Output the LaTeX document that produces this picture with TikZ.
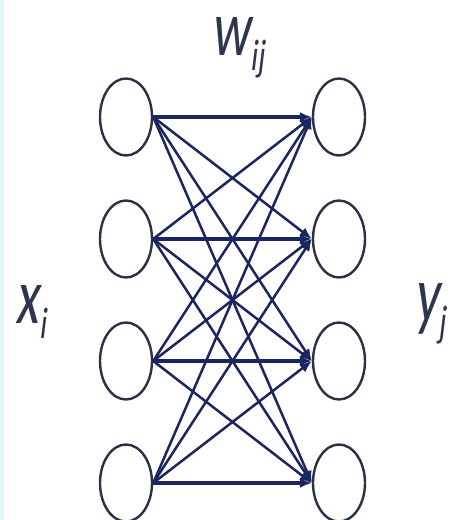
\documentclass[tikz,border=0pt]{standalone}
\usepackage{fontspec}
\setmainfont{Carlito}
\newfontfamily\lblfont{Carlito}[FakeSlant=0.18]
\usetikzlibrary{shapes.geometric,arrows.meta}
\definecolor{edgecol}{HTML}{1B2560}
\definecolor{ringcol}{HTML}{2A3045}
\definecolor{txtcol}{HTML}{2E3550}
\definecolor{stripe}{HTML}{E2F4FC}
\tikzset{
  neuron/.style={ellipse, draw=ringcol, line width=2.4bp, fill=white, minimum width=52bp, minimum height=77bp, inner sep=0pt},
  link/.style={draw=edgecol, line width=2.5bp, -{Latex[length=12bp,width=10bp]}},
  hlink/.style={link, line width=3.2bp},
  lbl/.style={text=txtcol, inner sep=0pt, font=\lblfont\fontsize{54}{54}\selectfont}
}
\newcommand{\vstretch}[1]{\scalebox{1}[1.48]{#1}}
\newcommand{\subtxt}[1]{\raisebox{-10pt}{\fontsize{30}{30}\selectfont #1}}
\begin{document}
\begin{tikzpicture}[x=1bp,y=-1bp]
\useasboundingbox (0,0) rectangle (451,520);
\fill[white] (0,0) rectangle (451,520);
\fill[stripe] (0,0) rectangle (4,520);
\foreach \i/\yy in {1/117,2/239,3/361,4/483}{
  \node[neuron] (L\i) at (126,\yy) {};
  \node[neuron] (R\i) at (339,\yy) {};
}
\foreach \i in {1,...,4}{
  \foreach \j in {1,...,4}{
    \ifnum\i=\j
      \draw[hlink] (L\i.east) -- (R\j.west);
    \else
      \draw[link] (L\i.east) -- (R\j.west);
    \fi
  }
}
\node[lbl] (w) at (238,48) {\vstretch{w\subtxt{ij}}};
\node[lbl] (x) at (31,312) {\vstretch{x\subtxt{i}}};
\node[lbl] (y) at (430,314) {\vstretch{y\subtxt{j}}};
\end{tikzpicture}
\end{document}
